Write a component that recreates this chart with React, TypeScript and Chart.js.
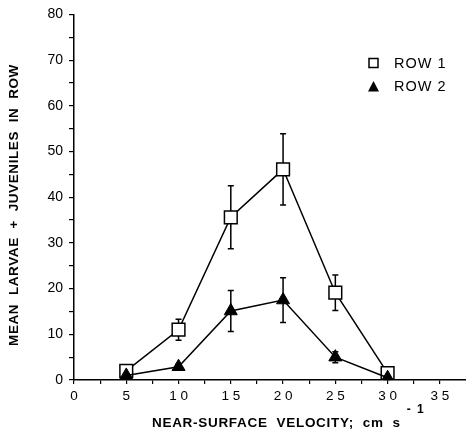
import React, { useEffect, useRef } from "react";
import { Chart, registerables } from "chart.js";

Chart.register(...registerables);

const velocities = [5, 10, 15, 20, 25, 30];
const row1 = [2, 11, 35.6, 46.1, 19.1, 1.5];
const row1Err = [0.8, 2.3, 6.9, 7.8, 3.9, 0.8];
const row2 = [1, 2.9, 15.1, 17.5, 5, 0.5];
const row2Err = [0.5, 0.6, 4.5, 4.9, 1.2, 0.4];
const xTicks = [0, 2.5, 5, 7.5, 10, 12.5, 15, 17.5, 20, 22.5, 25, 27.5, 30, 32.5, 35];
const yTicks = [0, 5, 10, 15, 20, 25, 30, 35, 40, 45, 50, 55, 60, 65, 70, 75, 80];
const seriesNames = ["ROW 1", "ROW 2"];
const xTitle = "NEAR-SURFACE  VELOCITY;  cm  s";
const xTitleSup = "- 1";
const yTitle = "MEAN  LARVAE  +  JUVENILES  IN  ROW";

const errors = [row1Err, row2Err];

const overlayPlugin = {
  id: "overlay",
  beforeDraw(chart: any) {
    const ctx = chart.ctx;
    ctx.fillStyle = "#fff";
    ctx.fillRect(0, 0, chart.width, chart.height);
  },
  beforeDatasetsDraw(chart: any) {
    const ctx = chart.ctx;
    const xs = chart.scales.x;
    const ys = chart.scales.y;
    ctx.save();
    ctx.strokeStyle = "#000";
    ctx.lineWidth = 1.5;
    chart.data.datasets.forEach((ds: any) => {
      const err = errors[ds.errIndex];
      ds.data.forEach((p: any, j: number) => {
        const e = err[j];
        const px = xs.getPixelForValue(p.x);
        const top = ys.getPixelForValue(p.y + e);
        const bot = ys.getPixelForValue(Math.max(0, p.y - e));
        ctx.beginPath();
        ctx.moveTo(px, top);
        ctx.lineTo(px, bot);
        ctx.moveTo(px - 3, top);
        ctx.lineTo(px + 3, top);
        ctx.moveTo(px - 3, bot);
        ctx.lineTo(px + 3, bot);
        ctx.stroke();
      });
    });
    ctx.restore();
  },
  afterDraw(chart: any) {
    const ctx = chart.ctx;
    ctx.save();
    ctx.fillStyle = "#000";
    ctx.strokeStyle = "#000";
    // legend
    ctx.lineWidth = 1.5;
    ctx.fillStyle = "#fff";
    ctx.fillRect(369, 58.5, 9, 9);
    ctx.strokeRect(369, 58.5, 9, 9);
    ctx.fillStyle = "#000";
    ctx.beginPath();
    ctx.moveTo(373.5, 81);
    ctx.lineTo(379, 91.5);
    ctx.lineTo(368, 91.5);
    ctx.closePath();
    ctx.fill();
    ctx.font = "14.5px 'Liberation Sans', Arial, sans-serif";
    (ctx as any).letterSpacing = "1px";
    ctx.textBaseline = "middle";
    ctx.textAlign = "left";
    ctx.fillText(seriesNames[0], 394, 63.5);
    ctx.fillText(seriesNames[1], 394, 87);
    // x title
    ctx.font = "bold 13.5px 'Liberation Sans', Arial, sans-serif";
    (ctx as any).letterSpacing = "0.7px";
    ctx.textBaseline = "alphabetic";
    ctx.fillText(xTitle, 152, 427);
    const w = ctx.measureText(xTitle).width;
    ctx.font = "bold 12px 'Liberation Sans', Arial, sans-serif";
    (ctx as any).letterSpacing = "1.5px";
    ctx.fillText(xTitleSup, 152 + w + 6, 413);
    // y title
    ctx.translate(18, 205);
    ctx.rotate(-Math.PI / 2);
    ctx.font = "bold 13.5px 'Liberation Sans', Arial, sans-serif";
    (ctx as any).letterSpacing = "0.6px";
    ctx.textAlign = "center";
    ctx.fillText(yTitle, 0, 0);
    ctx.restore();
  },
};

export default function App() {
  const ref = useRef<HTMLCanvasElement>(null);
  useEffect(() => {
    document.body.style.margin = "0";
    const chart = new Chart(ref.current!, {
      type: "scatter",
      data: {
        datasets: [
          {
            label: seriesNames[0],
            errIndex: 0,
            order: 2,
            data: velocities.map((v, i) => ({ x: v, y: row1[i] })),
            showLine: true,
            borderColor: "#000",
            borderWidth: 1.5,
            pointStyle: "rect",
            pointRadius: 9,
            pointBorderWidth: 1.5,
            pointBackgroundColor: "#fff",
            pointBorderColor: "#000",
          } as any,
          {
            label: seriesNames[1],
            errIndex: 1,
            order: 1,
            data: velocities.map((v, i) => ({ x: v, y: row2[i] })),
            showLine: true,
            borderColor: "#000",
            borderWidth: 1.5,
            pointStyle: "triangle",
            pointRadius: 7.5,
            pointBorderWidth: 1,
            pointBackgroundColor: "#000",
            pointBorderColor: "#000",
          } as any,
        ],
      },
      options: {
        responsive: false,
        animation: false,
        layout: { autoPadding: false, padding: { top: 12, right: 0, left: 0, bottom: 0 } },
        plugins: { legend: { display: false }, tooltip: { enabled: false } },
        scales: {
          x: {
            type: "linear",
            min: 0,
            max: 37.5,
            afterBuildTicks: (s: any) => {
              s.ticks = xTicks.map((v) => ({ value: v }));
            },
            afterFit: (s: any) => {
              s.height = 53;
              s.paddingRight = 0;
              s.paddingLeft = 0;
            },
            border: { display: true, color: "#000", width: 1.5 },
            grid: { drawOnChartArea: false, drawTicks: true, tickLength: 4, color: "#000", lineWidth: 1.2 },
            ticks: {
              color: "#000",
              autoSkip: false,
              maxRotation: 0,
              padding: 4,
              font: { family: "'Liberation Sans', Arial, sans-serif", size: 13.5 },
              callback: (v: any) => (Number(v) % 5 === 0 ? String(v).split("").join(" ") : ""),
            },
          },
          y: {
            type: "linear",
            min: 0,
            max: 80,
            afterBuildTicks: (s: any) => {
              s.ticks = yTicks.map((v) => ({ value: v }));
            },
            afterFit: (s: any) => {
              s.width = 74;
            },
            border: { display: true, color: "#000", width: 1.5 },
            grid: { drawOnChartArea: false, drawTicks: true, tickLength: 5, color: "#000", lineWidth: 1.2 },
            ticks: {
              color: "#000",
              autoSkip: false,
              padding: 6,
              font: { family: "'Liberation Sans', Arial, sans-serif", size: 14 },
              callback: (v: any) => (Number(v) % 10 === 0 ? String(v) : ""),
            },
          },
        },
      } as any,
      plugins: [overlayPlugin],
    });
    return () => chart.destroy();
  }, []);
  return <canvas ref={ref} width={466} height={433} style={{ display: "block" }} />;
}
